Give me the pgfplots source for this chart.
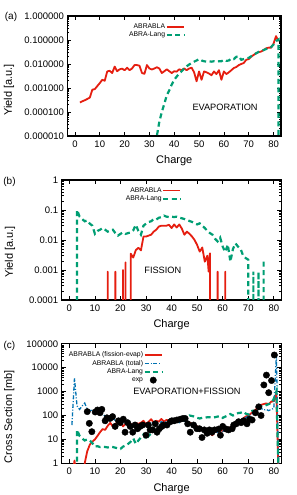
\documentclass[border=0pt]{standalone}
\usepackage{fontspec}
\setmainfont{Liberation Sans}
\usepackage{pgfplots}
\pgfplotsset{compat=1.18}
\definecolor{cred}{HTML}{E51E10}
\definecolor{cgreen}{HTML}{009E73}
\definecolor{cblue}{HTML}{0072B2}
\pgfplotsset{
  every axis x label/.style={at={(axis description cs:0.5,0)}, anchor=center, yshift=-25pt, font=\fontsize{11}{12}\selectfont},
  every axis/.append style={
    scale only axis,
    xmin=-3, xmax=83,
    xtick={0,10,20,30,40,50,60,70,80},
    tick align=inside,
    major tick length=4pt,
    minor tick length=2pt,
    axis line style={line width=1.1pt},
    tick style={black, line width=0.7pt},
    tick label style={font=\fontsize{9.5}{10}\selectfont},
    xticklabel style={yshift=-1.5pt},
    xlabel={Charge},
    legend cell align=right,
    legend plot pos=right,
  },
  every axis legend/.append style={draw=none, fill=none, font=\fontsize{6.8}{7}\selectfont, row sep=0.8pt,
      nodes={inner sep=0.6pt, text height=5pt, text depth=1.4pt}},
  /pgf/number format/assume math mode=true,
}
\tikzset{
  redl/.style={draw=cred, line width=1.8pt, line join=round},
  greenl/.style={draw=cgreen, line width=2.2pt, dash pattern=on 5pt off 3.5pt},
  bluel/.style={draw=cblue, line width=1.3pt, dash pattern=on 4pt off 1.8pt on 1pt off 1.8pt},
}
\begin{document}
\begin{tikzpicture}
\useasboundingbox (0pt,0pt) rectangle (297pt,495pt);
% ---------------- (a)
\begin{axis}[ymode=log, at={(67.5pt,359pt)}, anchor=south west, width=213.5pt, height=120pt,
  ymin=1e-5, ymax=1,
  ytick={1e-5,1e-4,1e-3,1e-2,1e-1,1},
  yticklabels={0.000010,0.000100,0.001000,0.010000,0.100000,1.000000},
  ylabel={Yield [a.u.]},
  ylabel style={at={(axis description cs:-0.274,0.383)}, anchor=center, font=\fontsize{11}{12}\selectfont},
  legend style={at={(0.565,0.96)}, anchor=north east},
]
\addplot[redl] coordinates {
(2,2.5e-4)(3,2.8e-4)(4,3.1e-4)(5,3.5e-4)(6,4e-4)(7,8.5e-4)(8,9e-4)(9,1.2e-3)(10,1.6e-3)
(11,2.2e-3)(12,2.0e-3)(13,4.9e-3)(14,5.2e-3)(15,4.2e-3)(16,7.8e-3)(17,5e-3)(18,6e-3)(19,6.4e-3)(20,5.5e-3)
(21,7e-3)(22,5.5e-3)(23,6.5e-3)(24,9e-3)(25,9e-3)(26,8.5e-3)(27,4.2e-3)(28,3.9e-3)(29,9e-3)(30,6.5e-3)
(31,5.9e-3)(32,6.5e-3)(33,7.3e-3)(34,6.5e-3)(35,4.2e-3)(36,5e-3)(37,6e-3)(38,5e-3)(39,4.2e-3)(40,5e-3)
(41,4.8e-3)(42,6e-3)(43,5.5e-3)(44,6.5e-3)(45,5.5e-3)(46,6.5e-3)(47,7e-3)(48,4.5e-3)(49,1.9e-3)(50,4.9e-3)
(51,2.2e-3)(52,4.9e-3)(53,4.5e-3)(54,4e-3)(55,3.4e-3)(56,4.9e-3)(57,3.8e-3)(58,5.5e-3)(59,2.2e-3)(60,4.9e-3)
(61,3.8e-3)(62,4.5e-3)(63,5.5e-3)(64,6.8e-3)(65,7.5e-3)(66,9e-3)(67,1e-2)(68,1.1e-2)(69,1.5e-2)(70,1.6e-2)
(71,2e-2)(72,2.4e-2)(73,2.8e-2)(74,3.1e-2)(75,3.3e-2)(76,3.8e-2)(77,4.5e-2)(78,4.8e-2)(79,4.8e-2)(80,7e-2)
(81,1.45e-1)(82,9e-2)
};
\addlegendentry{ABRABLA}
\addplot[greenl] coordinates {
(31,1e-6)(33,1e-5)(34,4e-5)(35,1e-4)(36,2.2e-4)(37,5e-4)(38,8e-4)(39,1.4e-3)(40,2.2e-3)
(41,3e-3)(42,4e-3)(43,5e-3)(44,6.5e-3)(45,8e-3)(46,9.5e-3)(47,1.1e-2)(48,1.25e-2)(49,1.4e-2)(50,1.6e-2)
(51,1.4e-2)(52,1.3e-2)(53,1.25e-2)(54,1.3e-2)(55,1.25e-2)(56,1.3e-2)(57,1.25e-2)(58,1.3e-2)(59,1.3e-2)(60,1.5e-2)
(61,1.35e-2)(62,1.4e-2)(63,1.7e-2)(64,1.6e-2)(65,2e-2)(66,2.1e-2)(67,1.5e-2)(68,1.6e-2)(69,1.7e-2)(70,1.8e-2)
(71,2.1e-2)(72,2.4e-2)(73,2.8e-2)(74,3.2e-2)(75,3.5e-2)(76,3.8e-2)(77,4.2e-2)(78,4.5e-2)(79,5e-2)(80,6.5e-2)
(81,9e-2)(82,1.05e-1)(82,1e-7)
};
\addlegendentry{ABRA-Lang}
\node[font=\fontsize{9.2}{10}\selectfont] at (rel axis cs:0.738,0.242) {EVAPORATION};
\end{axis}
% ---------------- (b)
\begin{axis}[ymode=log, at={(61.7pt,195pt)}, anchor=south west, width=219.8pt, height=120pt,
  ymin=1e-4, ymax=1,
  ytick={1e-4,1e-3,1e-2,1e-1,1},
  yticklabels={0.0001,0.001,0.01,0.1,1},
  ylabel={Yield [a.u.]},
  ylabel style={at={(axis description cs:-0.235,0.40)}, anchor=center, font=\fontsize{11}{12}\selectfont},
  legend style={at={(0.56,0.962)}, anchor=north east},
]
\addplot[redl] coordinates {
(15,1e-8)(15,8.8e-4)(15,1e-8)(18,1e-8)(18,8.8e-4)(18,1e-8)
(21,1e-8)(21,1e-3)(21,1e-8)(22,1e-8)(22,1.8e-3)(22,1e-8)
(24,1e-8)(24,3.5e-3)(25,2.6e-3)(26,4.6e-3)(27,5.5e-3)(28,4.5e-3)(29,1.3e-2)(30,1.3e-2)
(31,1.4e-2)(32,1.5e-2)(33,1.9e-2)(34,2.2e-2)(35,2.8e-2)(36,3e-2)(37,3e-2)(38,3e-2)(39,3.2e-2)(40,2.5e-2)
(41,3.3e-2)(42,2.6e-2)(43,3.3e-2)(44,2.4e-2)(45,1.5e-2)(46,1.9e-2)(47,1.6e-2)(48,1.3e-2)(49,1e-2)(50,6.8e-3)
(51,4.1e-3)(52,5.6e-3)(53,1.9e-3)(54,3e-3)(54.5,8.8e-4)(55,3.6e-3)(55,1e-8)
(58,1e-8)(58,8.8e-4)(58,1e-8)(61,1e-8)(61,8.8e-4)(61,1e-8)
};
\addlegendentry{ABRABLA}
\addplot[greenl] coordinates {
(3,1e-8)(3,0.1)(4,0.06)(5,0.05)(6,0.042)(7,0.045)(8,0.035)(9,0.03)(10,0.016)
(11,0.02)(12,0.022)(13,0.025)(14,0.022)(15,0.019)(16,0.02)(17,0.022)(18,0.017)(19,0.014)(20,0.016)
(21,0.018)(22,0.016)(23,0.017)(24,0.018)(25,0.021)(26,0.032)(27,0.02)(28,0.015)(29,0.03)(30,0.035)
(31,0.04)(32,0.042)(33,0.05)(34,0.048)(35,0.055)(36,0.058)(37,0.065)(38,0.06)(39,0.058)(40,0.06)
(41,0.058)(42,0.06)(43,0.055)(44,0.053)(45,0.05)(46,0.046)(47,0.043)(48,0.04)(49,0.036)(50,0.033)
(51,0.036)(52,0.03)(53,0.025)(54,0.02)(55,0.017)(56,0.015)(57,0.011)(58,0.009)(59,0.012)(60,0.006)
(61,0.004)(62,0.007)(63,0.0019)(64,0.005)(65,0.0077)(66,0.006)(67,0.005)(68,0.003)(69,0.0025)(70,0.0022)
(70,1e-8)(72,1e-8)(72,8.8e-4)(72,1e-8)(74,1e-8)(74,8.8e-4)(74,1e-8)(76,1e-8)(76,1.9e-3)
};
\addlegendentry{ABRA-Lang}
\node[font=\fontsize{9.2}{10}\selectfont] at (rel axis cs:0.46,0.25) {FISSION};
\end{axis}
% ---------------- (c)
\begin{axis}[ymode=log, at={(61.7pt,31.7pt)}, anchor=south west, width=219.8pt, height=119.5pt,
  ymin=1, ymax=1e5,
  ytick={1,10,100,1000,10000,100000},
  yticklabels={1,10,100,1000,10000,100000},
  ylabel={Cross Section [mb]},
  ylabel style={at={(axis description cs:-0.238,0.39)}, anchor=center, font=\fontsize{11}{12}\selectfont},
  legend style={at={(0.475,0.957)}, anchor=north east},
]
\addplot[redl] coordinates {
(1.5,0.5)(2,1.3)(2.5,0.5)(6,0.5)(6,1)(7,3.2)(8,6)(9,8)(10,10)
(11,14)(12,20)(13,27)(14,25)(15,37)(16,49)(17,35)(18,45)(19,48)(20,57)
(21,35)(22,45)(23,42)(24,45)(25,40)(26,48)(27,45)(28,50)(29,60)(30,42)
(31,55)(32,70)(33,50)(34,60)(35,55)(36,72)(37,55)(38,65)(39,60)(40,55)
(41,65)(42,60)(43,55)(44,70)(45,65)(46,55)(47,50)(48,45)(49,40)(50,35)
(51,29)(52,25)(53,22)(54,20)(55,18)(56,15)(57,22)(58,20)(59,25)(60,22)
(61,25)(62,28)(63,32)(64,40)(65,45)(66,55)(67,60)(68,75)(69,90)(70,100)
(71,120)(72,145)(73,180)(74,230)(75,280)(76,300)(77,320)(78,300)(79,380)(80,400)
(81,850)(82,0.1)
};
\addlegendentry{ABRABLA (fission-evap)}
\addplot[bluel] coordinates {
(1,40)(2,3600)(3,250)(4,180)(5,250)(6,330)(7,180)(8,160)(9,170)(10,150)
(11,140)(12,125)(13,110)(14,95)(15,85)(16,80)(17,75)(18,60)(19,55)(20,55)
(21,50)(22,45)(23,48)(24,45)(25,42)(26,45)(27,40)(28,45)(29,48)(30,42)
(31,45)(32,50)(33,48)(34,50)(35,48)(36,55)(37,50)(38,55)(39,55)(40,50)
(41,55)(42,55)(43,50)(44,60)(45,58)(46,50)(47,45)(48,40)(49,35)(50,32)
(51,28)(52,25)(53,22)(54,20)(55,20)(56,18)(57,22)(58,20)(59,24)(60,22)
(61,24)(62,26)(63,30)(64,36)(65,42)(66,50)(67,55)(68,65)(69,80)(70,95)
(71,110)(72,130)(73,150)(74,170)(75,200)(76,170)(77,180)(78,160)(79,180)(80,200)
(81,35000)(82,0.1)
};
\addlegendentry{ABRABLA (total)}
\addplot[greenl] coordinates {
(3,0.1)(3,25)(4,14)(5,11)(6,9)(7,10)(8,9)(9,7)(10,5)
(11,5.2)(12,4.8)(13,5)(14,4.8)(15,4.6)(16,5)(17,4.8)(18,4.5)(19,4.2)(20,4)
(21,5)(22,5.5)(23,6.5)(24,8)(25,11)(26,6.5)(27,9)(28,12)(29,16)(30,10)
(31,14)(32,18)(33,25)(34,22)(35,30)(36,34)(37,38)(38,40)(39,45)(40,50)
(41,55)(42,55)(43,60)(44,58)(45,65)(46,80)(47,100)(48,95)(49,90)(50,80)
(51,75)(52,80)(53,80)(54,85)(55,84)(56,80)(57,85)(58,90)(59,95)(60,80)
(61,90)(62,100)(63,115)(64,100)(65,110)(66,126)(67,130)(68,145)(69,120)(70,110)
(71,150)(72,160)(73,145)(74,200)(75,240)(76,240)(77,270)(78,300)(79,330)(80,500)
(81,1000)(82,0.1)
};
\addlegendentry{ABRA-Lang}
\addplot[only marks, mark=*, mark size=3.2pt, black] coordinates {
(7.0,145)(7.8,47)(8.8,21)(10.1,140)(11.0,170)(12.0,130)(12.7,180)(14,60)(14.7,80)(15.9,75)
(16.9,90)(17.9,35)(19.2,60)(19.9,50)(21.1,70)(21.8,20)(22.8,50)(23.8,35)(24.8,20)(25.7,40)
(26.7,28)(27.7,35)(28.7,40)(30.0,15)(30.9,40)(31.6,25)(32.6,25)(33.6,45)(34.3,20)(35.2,28)
(36.2,35)(36.8,40)(38.2,40)(39.5,55)(40.1,60)(41.0,60)(42.1,65)(43.4,70)(44.4,75)(45.3,75)
(46.3,45)(47.3,20)(48.6,40)(49.9,28)(50.9,28)(51.9,12)(52.8,25)(53.9,18)(54.8,25)(55.8,20)
(56.8,25)(58.4,27)(59.1,15)(60.0,35)(61.4,27)(62.3,25)(63.7,28)(64.3,40)(65.3,45)(66.2,55)
(67.2,50)(68.2,60)(69.5,45)(70.5,70)(71.5,65)(72.8,130)(74.1,230)(75,100)(76.1,1900)(77.1,4900)
(78,900)(79.1,2900)(80.2,34000)
};
\addlegendentry{exp}
\node[font=\fontsize{9.2}{10}\selectfont] at (rel axis cs:0.57,0.60) {EVAPORATION+FISSION};
\end{axis}
\node[font=\fontsize{10}{12}\selectfont] at (11pt,478pt) {(a)};
\node[font=\fontsize{10}{12}\selectfont] at (9.5pt,313.3pt) {(b)};
\node[font=\fontsize{10}{12}\selectfont] at (9.5pt,149pt) {(c)};
\end{tikzpicture}
\end{document}
